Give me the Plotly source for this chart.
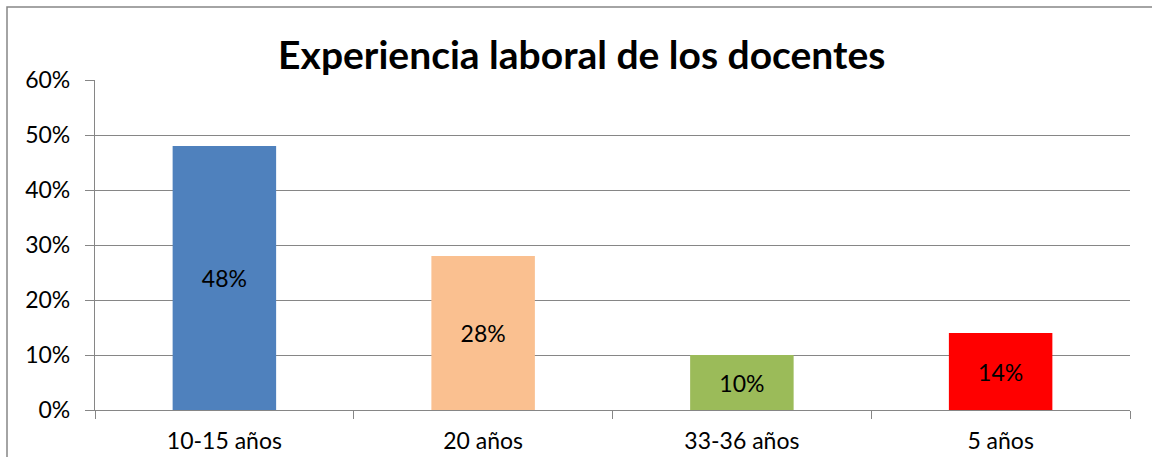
import plotly.graph_objects as go

categories = ["10-15 años", "20 años", "33-36 años", "5 años"]
values = [0.48, 0.28, 0.10, 0.14]
labels = ["48%", "28%", "10%", "14%"]
colors = ["#4F81BD", "#FAC090", "#9BBB59", "#FF0000"]
y_ticks = [0, 0.1, 0.2, 0.3, 0.4, 0.5, 0.6]
y_tick_text = ["0%", "10%", "20%", "30%", "40%", "50%", "60%"]

FONT = "Lato"
GRID = "#868686"

fig = go.Figure(go.Bar(
    x=categories, y=values, text=labels,
    marker=dict(color=colors, line=dict(width=0)),
    width=0.4,
    textposition="inside", insidetextanchor="middle",
    textfont=dict(family=FONT, size=23, color="black"),
    hoverinfo="skip",
))

fig.update_layout(
    width=1152, height=457,
    margin=dict(l=95, r=22, t=80, b=47, autoexpand=False),
    paper_bgcolor="white", plot_bgcolor="white",
    showlegend=False,
    title=dict(text="<b>Experiencia laboral de los docentes</b>",
               font=dict(family=FONT, size=39, color="black"),
               x=0.505, xanchor="center", xref="container",
               y=1 - 55 / 457, yanchor="middle", yref="container"),
    xaxis=dict(range=[-0.5, 3.5], showgrid=False, showline=True,
               linecolor=GRID, linewidth=1.3, automargin=False,
               ticks="outside", tickson="boundaries", ticklen=8,
               tickcolor=GRID, tickwidth=1.3,
               ticklabelstandoff=10,
               tickfont=dict(family=FONT, size=23, color="black")),
    yaxis=dict(range=[0, 0.6], tickvals=y_ticks, ticktext=y_tick_text,
               showgrid=True, gridcolor=GRID, gridwidth=1.3,
               showline=True, linecolor=GRID, linewidth=1.3, automargin=False,
               ticks="outside", ticklen=9, tickcolor=GRID, tickwidth=1.3,
               ticklabelstandoff=10, zeroline=False,
               tickfont=dict(family=FONT, size=23, color="black")),
    shapes=[dict(type="rect", xref="paper", yref="paper",
                 x0=(7 - 95) / 1035, x1=1.2,
                 y0=-0.5, y1=1 + (80 - 7) / 330,
                 line=dict(color=GRID, width=1.5), layer="below")],
)

fig.write_html("out.html", config={"displayModeBar": False},
               post_script="document.body.style.margin='0';document.body.style.overflow='hidden';")
